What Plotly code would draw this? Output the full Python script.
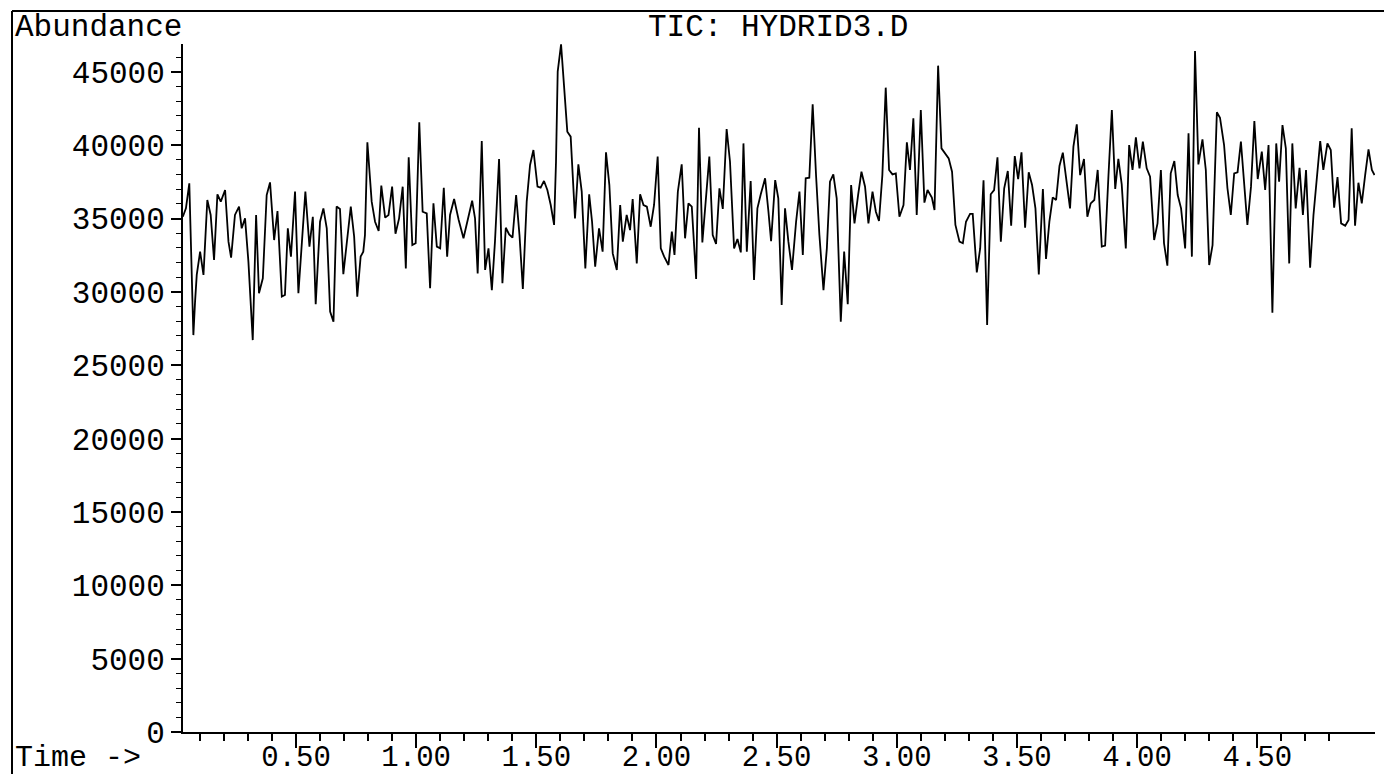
import plotly.graph_objects as go

# ---- data (time in minutes, abundance counts) ----
time_a = [0.029, 0.042, 0.056, 0.073, 0.080, 0.087, 0.101, 0.115, 0.131, 0.145,
          0.159, 0.173, 0.187, 0.205, 0.219, 0.230, 0.246, 0.263, 0.274, 0.288,
          0.302, 0.320, 0.334, 0.346, 0.362, 0.378, 0.392, 0.409, 0.423, 0.441,
          0.454, 0.466, 0.479, 0.496, 0.510, 0.539, 0.556, 0.570, 0.582, 0.600,
          0.614, 0.628, 0.642, 0.656, 0.669, 0.683, 0.697, 0.728, 0.742, 0.755,
          0.769, 0.780, 0.787, 0.797, 0.815, 0.829, 0.844, 0.855, 0.871, 0.885,
          0.900, 0.914, 0.929, 0.944, 0.957, 0.969, 0.984, 0.998, 1.013, 1.027,
          1.044, 1.058, 1.072, 1.086, 1.100, 1.115, 1.129, 1.141, 1.158, 1.177,
          1.197, 1.217, 1.233, 1.245, 1.256]
abund_a = [35130, 35700, 37410, 27060, 29340, 31160, 32750, 31160, 36270, 35250,
           32180, 36660, 36160, 36950, 33430, 32340, 35250, 35820, 34340, 35020,
           32070, 26720, 35250, 29910, 30930, 36610, 37470, 33540, 35520, 29680,
           29790, 34340, 32410, 36840, 29910, 36840, 33090, 35130, 29160, 34790,
           35700, 34340, 28660, 27970, 35820, 35660, 31220, 35820, 33770, 29680,
           32410, 32750, 33880, 40200, 36160, 34790, 34160, 37250, 35070, 35250,
           37180, 33970, 35020, 37180, 31610, 39180, 33200, 33320, 41570, 35470,
           35360, 30250, 36040, 33090, 32970, 37110, 32410, 35250, 36340, 34910,
           33660, 35130, 36220, 35020, 31270]

time_b = [1.273, 1.287, 1.301, 1.315, 1.328, 1.345, 1.359, 1.373, 1.387, 1.401,
          1.416, 1.430, 1.444, 1.460, 1.474, 1.488, 1.505, 1.518, 1.532, 1.546,
          1.560, 1.574, 1.582, 1.589, 1.603, 1.616, 1.629, 1.643, 1.661, 1.675,
          1.689, 1.704, 1.720, 1.732, 1.745, 1.761, 1.776, 1.790, 1.804, 1.818,
          1.835, 1.849, 1.860, 1.876, 1.890, 1.901, 1.918, 1.932, 1.946, 1.960,
          1.976, 1.990, 2.005, 2.018, 2.032, 2.050, 2.064, 2.075, 2.089, 2.105,
          2.119, 2.133, 2.147, 2.165, 2.177, 2.191, 2.206, 2.220, 2.234, 2.248,
          2.262, 2.276, 2.292, 2.306, 2.323, 2.337, 2.351, 2.362, 2.376, 2.392,
          2.406, 2.420, 2.434, 2.452, 2.466, 2.477, 2.494, 2.507]
abund_b = [40290, 31500, 32970, 30130, 33430, 39070, 30590, 34380, 33930, 33700,
           36610, 33880, 30200, 36160, 38660, 39680, 37180, 37110, 37570, 36950,
           35930, 34570, 38880, 45020, 46880, 44110, 40930, 40590, 35020, 38700,
           36840, 31610, 36660, 34790, 31720, 34340, 32750, 39520, 37290, 32630,
           31500, 35930, 33430, 35250, 34220, 36340, 31950, 36660, 35930, 35820,
           34450, 35930, 39230, 32970, 32410, 31840, 34110, 32520, 36840, 38700,
           33660, 36040, 35820, 30880, 41200, 33380, 36500, 39230, 33880, 33270,
           37070, 35660, 41110, 38880, 32970, 33610, 32700, 40130, 32750, 37570,
           30820, 35700, 36660, 37750, 35470, 33470, 37630, 36380]

time_c = [2.521, 2.535, 2.549, 2.564, 2.581, 2.595, 2.609, 2.621, 2.636, 2.650,
          2.664, 2.678, 2.695, 2.709, 2.722, 2.736, 2.750, 2.767, 2.781, 2.796,
          2.810, 2.824, 2.839, 2.853, 2.868, 2.882, 2.899, 2.913, 2.926, 2.940,
          2.954, 2.968, 2.982, 2.996, 3.011, 3.028, 3.042, 3.055, 3.069, 3.083,
          3.100, 3.115, 3.128, 3.146, 3.157, 3.172, 3.186, 3.200, 3.216, 3.230,
          3.244, 3.261, 3.275, 3.288, 3.305, 3.316, 3.333, 3.347, 3.361, 3.376,
          3.391, 3.405, 3.419, 3.433, 3.447, 3.462, 3.476, 3.491, 3.505, 3.519,
          3.534, 3.549, 3.563, 3.577, 3.591, 3.608, 3.621, 3.635, 3.649, 3.663,
          3.677, 3.691, 3.705, 3.721, 3.735, 3.749, 3.763]
abund_c = [29110, 35700, 33430, 31500, 34790, 36840, 32520, 37750, 37790, 42790,
           37970, 33880, 30130, 32970, 37520, 38020, 36380, 27970, 32750, 29160,
           37290, 34680, 36610, 38200, 37180, 34680, 36840, 35470, 34840, 37970,
           43930, 38320, 38020, 38090, 35130, 35930, 40200, 38320, 41840, 35250,
           42410, 36090, 36950, 36430, 35590, 45430, 39790, 39450, 39110, 38200,
           34570, 33430, 33320, 34790, 35320, 35320, 31340, 32970, 37610, 27750,
           36660, 36950, 39180, 33430, 37070, 38250, 34520, 39270, 37700, 39520,
           34380, 38160, 37290, 35700, 31200, 37020, 32250, 34790, 36450, 36270,
           38590, 39500, 37630, 35700, 39910, 41430, 37970]

time_d = [3.779, 3.793, 3.807, 3.822, 3.836, 3.853, 3.867, 3.881, 3.895, 3.909,
          3.922, 3.936, 3.953, 3.967, 3.981, 3.995, 4.010, 4.024, 4.040, 4.054,
          4.071, 4.085, 4.099, 4.112, 4.126, 4.140, 4.155, 4.169, 4.183, 4.200,
          4.214, 4.228, 4.241, 4.255, 4.272, 4.286, 4.300, 4.314, 4.332, 4.345,
          4.362, 4.376, 4.390, 4.404, 4.418, 4.432, 4.445, 4.459, 4.474, 4.488,
          4.502, 4.519, 4.533, 4.547, 4.563, 4.579, 4.591, 4.605, 4.619, 4.633,
          4.646, 4.660, 4.676, 4.690, 4.703, 4.720, 4.734, 4.748, 4.762, 4.775,
          4.792, 4.806, 4.820, 4.834, 4.849, 4.866, 4.880, 4.893, 4.907, 4.921,
          4.935, 4.949, 4.963, 4.977, 4.988]
abund_d = [39070, 35130, 36040, 36270, 38320, 33090, 33160, 37970, 42410, 37020,
           39070, 37340, 32970, 40020, 38320, 40540, 38430, 40250, 38430, 37860,
           33540, 34680, 38320, 33320, 31790, 38090, 38930, 36610, 35700, 32970,
           40820, 32410, 46430, 38700, 40410, 38320, 31840, 33200, 42250, 41880,
           40020, 37070, 35250, 38090, 38160, 40250, 37180, 34570, 37180, 41660,
           37700, 39570, 36950, 40020, 28590, 40130, 37520, 41380, 39790, 31950,
           40130, 35700, 38470, 35250, 38320, 31660, 35250, 37970, 40290, 38320,
           40130, 39680, 35750, 37840, 34680, 34520, 34910, 41160, 34520, 37450,
           36040, 37970, 39730, 38320, 37970]

x_major = [0.5, 1.0, 1.5, 2.0, 2.5, 3.0, 3.5, 4.0, 4.5]
x_labels = ["0.50", "1.00", "1.50", "2.00", "2.50", "3.00", "3.50", "4.00", "4.50"]
x_minor = [0.1, 0.2, 0.3, 0.4, 0.6, 0.7, 0.8, 0.9, 1.1, 1.2, 1.3, 1.4,
           1.6, 1.7, 1.8, 1.9, 2.1, 2.2, 2.3, 2.4, 2.6, 2.7, 2.8, 2.9,
           3.1, 3.2, 3.3, 3.4, 3.6, 3.7, 3.8, 3.9, 4.1, 4.2, 4.3, 4.4,
           4.6, 4.7, 4.8]
y_major = [0, 5000, 10000, 15000, 20000, 25000, 30000, 35000, 40000, 45000]
y_labels = ["0", "5000", "10000", "15000", "20000", "25000", "30000",
            "35000", "40000", "45000"]

title_text = "TIC: HYDRID3.D"
y_title = "Abundance"
x_title = "Time ->"

time_min = time_a + time_b + time_c + time_d
abundance = abund_a + abund_b + abund_c + abund_d

# ---- figure ----
W, H = 1384, 774
FONT = "Courier New, Liberation Mono, monospace"
FS = 31
FSX = 29

fig = go.Figure(go.Scatter(x=time_min, y=abundance, mode="lines",
                           line=dict(color="black", width=1.8),
                           hoverinfo="skip"))

fig.update_layout(
    width=W, height=H, template="none",
    margin=dict(l=0, r=0, t=0, b=0, pad=0),
    paper_bgcolor="white", plot_bgcolor="white", showlegend=False,
    font=dict(family=FONT, size=FS, color="black"),
)

fig.update_xaxes(
    domain=[183 / W, 1375 / W], range=[0.0298, 4.990],
    showline=True, linecolor="black", linewidth=2, mirror=False,
    showgrid=False, zeroline=False, automargin=False,
    ticks="outside", ticklen=14, tickwidth=1.6, tickcolor="black",
    tickmode="array", tickvals=x_major, ticktext=x_labels,
    ticklabelstandoff=-17,
    tickfont=dict(family=FONT, size=FSX, color="black"),
    minor=dict(tickmode="array", tickvals=x_minor, ticks="outside",
               ticklen=7, tickwidth=1.6, tickcolor="black", showgrid=False),
)
fig.update_yaxes(
    domain=[(H - 732) / H, (H - 44.1) / H], range=[0, 46900],
    showline=True, linecolor="black", linewidth=2,
    showgrid=False, zeroline=False, automargin=False,
    ticks="outside", ticklen=10, tickwidth=1.6, tickcolor="black",
    tickmode="array", tickvals=y_major, ticktext=y_labels,
    tickfont=dict(family=FONT, size=FS, color="black"),
    minor=dict(dtick=1000, ticks="outside", ticklen=5, tickwidth=1.4,
               tickcolor="black", showgrid=False),
)

ann_font = dict(family=FONT, size=FS, color="black")
fig.add_annotation(text=y_title, xref="paper", yref="paper",
                   x=13 / W, y=1 - 27.5 / H, xanchor="left", yanchor="middle",
                   showarrow=False, font=ann_font)
fig.add_annotation(text=title_text, xref="paper", yref="paper",
                   x=778 / W, y=1 - 27.5 / H, xanchor="center", yanchor="middle",
                   showarrow=False, font=ann_font)
fig.add_annotation(text=x_title, xref="paper", yref="paper",
                   x=13 / W, y=1 - 758 / H, xanchor="left", yanchor="middle",
                   showarrow=False, font=dict(family=FONT, size=30, color="black"))

# outer frame (top and left edges)
fig.add_shape(type="line", xref="paper", yref="paper",
              x0=12 / W, y0=1 - 11 / H, x1=1, y1=1 - 11 / H,
              line=dict(color="black", width=2))
fig.add_shape(type="line", xref="paper", yref="paper",
              x0=12 / W, y0=1 - 11 / H, x1=12 / W, y1=0,
              line=dict(color="black", width=2))

fig.write_html("out.html", config={"displayModeBar": False},
               post_script="document.body.style.margin='0';document.body.style.overflow='hidden';")
